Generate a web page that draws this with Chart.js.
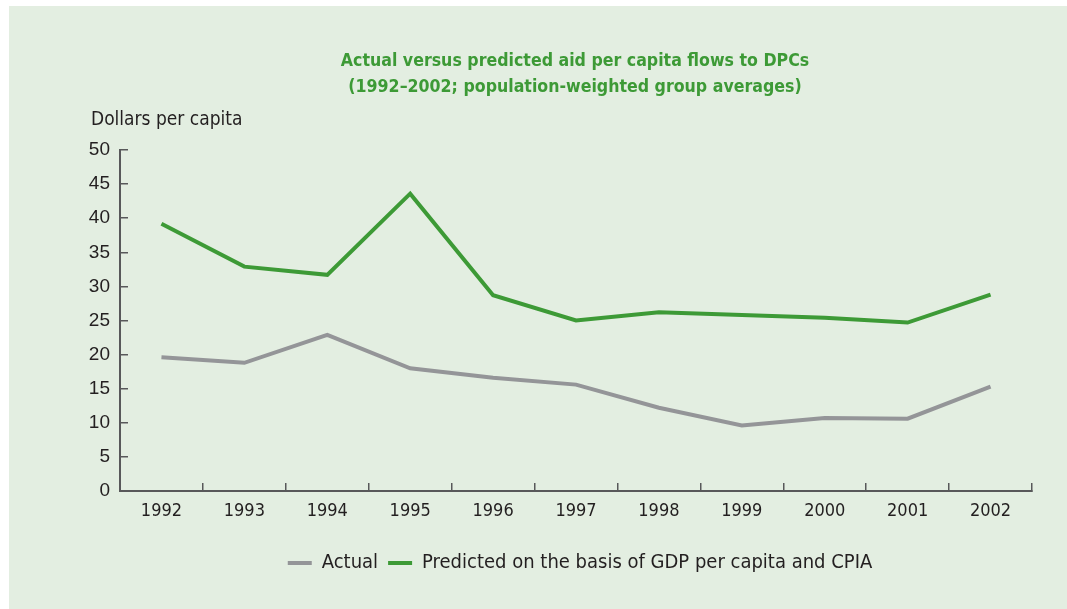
<!DOCTYPE html>
<html>
<head>
<meta charset="utf-8">
<script src="https://cdn.jsdelivr.net/npm/chart.js@4.4.1/dist/chart.umd.min.js"></script>
<style>
  html, body { margin: 0; padding: 0; background: #ffffff; }
  #panel { position: absolute; left: 9px; top: 6px; width: 1058px; height: 603px; background: #e3eee1; }
</style>
</head>
<body>
<div id="panel"><canvas id="aid" width="1058" height="603"></canvas></div>
<script>
const years = ['1992', '1993', '1994', '1995', '1996', '1997', '1998', '1999', '2000', '2001', '2002'];
const actual = [19.6, 18.8, 22.9, 18.0, 16.6, 15.6, 12.2, 9.6, 10.7, 10.6, 15.3];
const predicted = [39.2, 32.9, 31.7, 43.6, 28.7, 25.0, 26.2, 25.8, 25.4, 24.7, 28.8];
const titleLines = ['Actual versus predicted aid per capita flows to DPCs', '(1992\u20132002; population-weighted group averages)'];
const yAxisTitle = 'Dollars per capita';

const GREEN = '#3d9a36';
const GREY = '#949598';
const INK = '#231f20';
const AXIS = '#58585a';
const NARROW = "'DejaVu Sans Condensed', 'DejaVu Sans', sans-serif";

// heading and unit label above the plot
const headings = {
  id: 'headings',
  afterDraw(chart) {
    const ctx = chart.ctx;
    ctx.save();
    ctx.fillStyle = GREEN;
    ctx.font = 'bold 17.6px ' + NARROW;
    ctx.textAlign = 'center';
    ctx.textBaseline = 'middle';
    ctx.fillText(titleLines[0], 566, 55);
    ctx.fillText(titleLines[1], 566, 81);
    ctx.fillStyle = INK;
    ctx.font = '19px ' + NARROW;
    ctx.textAlign = 'left';
    ctx.fillText(yAxisTitle, 82, 114);
    ctx.restore();
  }
};

// keep the legend centred under the plot area rather than the whole canvas
const legendUnderPlot = {
  id: 'legendUnderPlot',
  afterLayout(chart) {
    const lg = chart.legend;
    const dx = (chart.chartArea.left + chart.chartArea.right) / 2 - (lg.left + lg.right) / 2 + 4;
    lg.left += dx;
    lg.right += dx;
  }
};

new Chart(document.getElementById('aid'), {
  type: 'line',
  data: {
    labels: years,
    datasets: [
      { label: 'Actual', data: actual, borderColor: GREY, backgroundColor: GREY, borderWidth: 4, pointRadius: 0, tension: 0 },
      { label: 'Predicted on the basis of GDP per capita and CPIA', data: predicted, borderColor: GREEN, backgroundColor: GREEN, borderWidth: 4, pointRadius: 0, tension: 0 }
    ]
  },
  options: {
    responsive: false,
    animation: false,
    layout: { padding: { top: 144, right: 35, left: 0, bottom: 26 } },
    scales: {
      x: {
        offset: true,
        grid: { offset: true, drawOnChartArea: false, drawTicks: true, tickLength: -8, color: AXIS, lineWidth: 1.5 },
        border: { color: AXIS, width: 2 },
        ticks: { color: INK, font: { family: NARROW, size: 18 }, padding: 18, maxRotation: 0 },
        afterFit(scale) { scale.height = 52; }
      },
      y: {
        min: 0,
        max: 50,
        grid: { drawOnChartArea: false, drawTicks: true, tickLength: -8, color: AXIS, lineWidth: 1.5 },
        border: { color: AXIS, width: 2 },
        ticks: { stepSize: 5, color: INK, font: { family: "'Liberation Sans', sans-serif", size: 19 }, padding: 18 },
        afterFit(scale) { scale.width = 111; }
      }
    },
    plugins: {
      title: { display: false },
      tooltip: { enabled: false },
      legend: {
        position: 'bottom',
        labels: {
          color: INK,
          font: { family: NARROW, size: 20 },
          boxWidth: 24,
          boxHeight: 4,
          padding: 10,
          generateLabels(chart) {
            return Chart.defaults.plugins.legend.labels.generateLabels(chart).map(item => ({ ...item, lineWidth: 0 }));
          }
        }
      }
    }
  },
  plugins: [headings, legendUnderPlot]
});
</script>
</body>
</html>
